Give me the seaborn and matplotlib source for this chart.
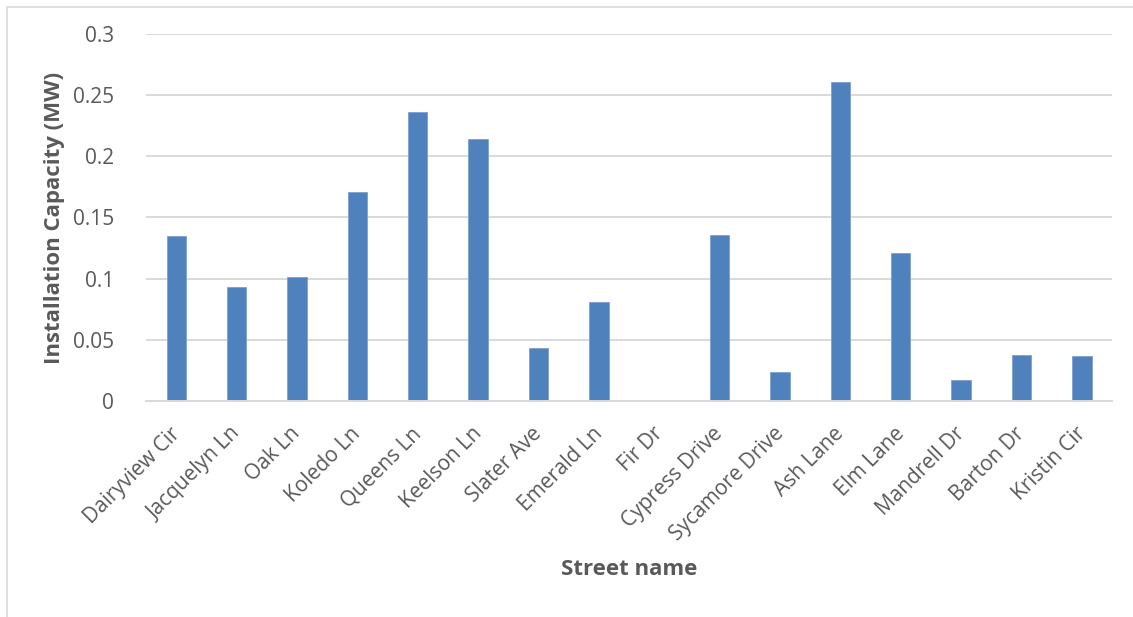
import matplotlib
matplotlib.use("Agg")
import matplotlib.pyplot as plt
import matplotlib.transforms as mtransforms
import seaborn as sns
import pandas as pd
from matplotlib.patches import Rectangle

streets = ["Dairyview Cir", "Jacquelyn Ln", "Oak Ln", "Koledo Ln", "Queens Ln",
           "Keelson Ln", "Slater Ave", "Emerald Ln", "Fir Dr", "Cypress Drive",
           "Sycamore Drive", "Ash Lane", "Elm Lane", "Mandrell Dr", "Barton Dr",
           "Kristin Cir"]
capacity_mw = [0.135, 0.093, 0.101, 0.171, 0.236, 0.214, 0.043, 0.081, 0.0,
               0.136, 0.024, 0.261, 0.121, 0.0175, 0.038, 0.037]
y_ticks = [0, 0.05, 0.1, 0.15, 0.2, 0.25, 0.3]
y_tick_labels = ["0", "0.05", "0.1", "0.15", "0.2", "0.25", "0.3"]

df = pd.DataFrame({"Street name": streets, "Capacity": capacity_mw})

sns.set_theme(style="white")
plt.rcParams["font.family"] = ["Open Sans", "DejaVu Sans"]

fig = plt.figure(figsize=(11.33, 6.17), dpi=100)
ax = fig.add_axes([0.1289, 0.350, 0.8526, 0.595])

sns.barplot(data=df, x="Street name", y="Capacity", color="#4f81bd",
            saturation=1, width=0.32, edgecolor="#7ea1cf", linewidth=0.6, ax=ax)

ax.set_ylim(0, 0.3)
ax.set_xlim(-0.5, len(streets) - 0.5)
ax.set_yticks(y_ticks)
ax.set_yticklabels(y_tick_labels)
ax.yaxis.grid(True, color="#d9d9d9", linewidth=1.4)
ax.set_axisbelow(True)
for side in ["top", "right", "left"]:
    ax.spines[side].set_visible(False)
ax.spines["bottom"].set_color("#d9d9d9")
ax.spines["bottom"].set_linewidth(1.4)
ax.tick_params(axis="both", length=0, colors="#595959", labelsize=15)
ax.tick_params(axis="y", pad=23)
ax.tick_params(axis="x", pad=16)

# rotated street names, nudged slightly left of the bar centres
shift = mtransforms.ScaledTranslation(-7 / 100, 0, fig.dpi_scale_trans)
for lbl in ax.get_xticklabels():
    lbl.set_rotation(45)
    lbl.set_ha("right")
    lbl.set_rotation_mode("anchor")
    lbl.set_transform(lbl.get_transform() + shift)

ax.set_xlabel("Street name", fontsize=16, fontweight="bold", color="#595959",
              labelpad=10)
ax.set_ylabel("Installation Capacity (MW)", fontsize=16, fontweight="bold",
              color="#595959", labelpad=6)

# thin chart-area frame
fig.patches.append(Rectangle((7 / 1133, -0.1), 1.2, 1 - 7 / 617 + 0.1,
                             transform=fig.transFigure, fill=False,
                             edgecolor="#d9d9d9", linewidth=1.2))

fig.savefig("out.png", dpi=100, facecolor="white")
